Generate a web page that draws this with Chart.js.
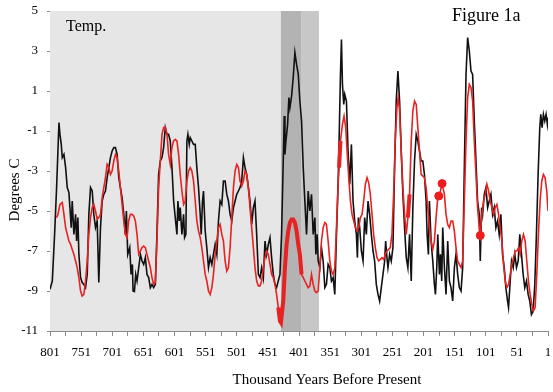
<!DOCTYPE html>
<html>
<head>
<meta charset="utf-8">
<script src="https://cdn.jsdelivr.net/npm/chart.js@4.4.1/dist/chart.umd.min.js"></script>
<style>
html,body{margin:0;padding:0;background:#fff;}
#wrap{width:553px;height:392px;position:relative;}
</style>
</head>
<body>
<div id="wrap"><canvas id="c" width="553" height="392"></canvas></div>
<script>
// ---- Data (thousand years before present, degrees C) ----
const blackAge = [801,797.3,793.6,790.4,786.6,785.0,782.9,781.3,778.6,775.9,773.3,770.6,769.0,766.9,765.3,762.6,759.9,758.3,756.2,754.6,751.9,749.3,746.6,743.9,741.2,738.6,735.9,733.2,730.6,727.9,725.2,722.6,719.9,717.2,714.6,711.9,709.2,706.5,703.9,701.2,698.5,695.9,693.2,690.5,687.9,685.2,682.5,679.9,678.3,676.1,672.9,670.8,668.6,667.6,665.4,663.3,661.2,658.5,655.8,653.2,650.5,647.8,645.2,642.5,639.8,637.2,634.5,631.8,629.2,626.5,623.8,621.1,618.5,615.8,613.1,610.5,607.8,605.1,602.4,599.8,597.1,595.5,593.4,591.8,589.1,586.4,584.8,582.7,581.1,579.5,577.3,575.7,573.1,570.4,567.7,565.1,562.4,559.7,558.1,556.0,554.4,551.7,549.1,546.4,543.7,541.0,538.4,535.7,533.0,530.4,527.7,525.0,522.4,519.7,517.0,514.4,511.7,509.0,506.3,503.7,501.0,498.3,495.7,493.0,490.3,487.7,485.0,482.3,479.7,477.0,474.3,471.7,469.0,466.3,463.6,461.0,458.3,455.6,453.0,450.3,447.6,445.0,442.3,439.6,437.0,434.3,431.6,429.0,426.3,424.7,423.6,422.0,419.3,417.2,415.6,412.9,410.3,407.6,404.9,402.2,399.6,396.9,394.2,391.6,388.9,386.2,383.6,380.9,378.2,375.5,373.9,371.8,370.2,367.5,364.9,362.2,359.5,356.9,354.2,351.5,348.9,346.2,343.5,340.8,338.2,336.6,334.4,332.8,331.2,329.1,327.5,324.8,322.2,319.5,316.8,314.2,311.5,308.8,307.2,305.6,303.5,300.8,298.1,295.5,292.8,290.1,287.5,284.8,282.1,279.5,276.8,274.1,271.5,268.8,266.1,263.4,261.8,259.7,258.1,255.4,252.8,250.1,247.4,244.8,242.1,239.4,236.8,234.1,231.4,228.7,226.1,223.4,220.7,218.1,215.4,212.7,210.1,207.4,204.8,202.1,199.5,196.8,195.2,193.1,191.5,188.8,186.1,183.5,181.8,179.7,178.1,175.4,173.8,171.7,170.1,167.4,164.8,162.1,159.4,156.8,154.1,151.4,148.8,146.1,143.4,140.7,138.1,135.4,132.7,130.1,127.4,124.7,122.1,119.4,116.7,114.1,111.4,109.8,107.6,106.0,103.4,100.7,98.0,95.4,92.7,90.0,87.4,84.7,82.0,79.4,76.7,74.0,71.3,68.7,66.0,64.4,61.7,59.6,56.9,54.3,51.6,48.9,46.3,43.6,40.9,38.3,35.6,32.9,30.3,27.6,24.9,22.2,19.6,16.9,14.2,12.6,10.5,8.4,6.2,4.1,2.0,1];
const blackTemp = [-8.92,-8.5,-6.17,-3.83,-0.58,-1.17,-1.67,-2.33,-2.17,-2.83,-3.83,-4.08,-4.83,-5.83,-4.5,-6.17,-5.17,-6.5,-5.33,-7.17,-8.33,-8.58,-8.67,-8.83,-8.17,-5.17,-3.83,-4.0,-5.17,-5.83,-5.5,-8.58,-5.83,-4.5,-4.17,-4.0,-3.33,-2.83,-2.33,-2.0,-1.83,-1.83,-2.17,-3.33,-3.83,-4.33,-5.17,-6.17,-5.0,-7.17,-6.83,-8.17,-7.67,-9.0,-9.03,-8.17,-8.5,-7.83,-7.17,-7.5,-7.67,-7.33,-8.17,-8.33,-8.83,-8.67,-8.83,-8.67,-6.17,-3.17,-2.5,-2.33,-1.83,-0.83,-1.17,-1.17,-1.5,-2.83,-4.5,-5.33,-6.17,-4.5,-5.5,-4.83,-6.17,-5.17,-6.33,-6.17,-1.5,-1.17,-1.67,-1.33,-1.5,-1.67,-1.67,-2.83,-3.83,-5.17,-6.17,-4.5,-4.0,-6.0,-6.83,-7.83,-7.33,-7.67,-7.17,-6.67,-7.17,-5.5,-4.5,-4.67,-3.5,-3.5,-4.17,-4.5,-5.17,-5.5,-4.83,-4.5,-4.17,-4.0,-3.83,-3.5,-2.33,-2.83,-3.17,-3.83,-4.5,-5.67,-4.83,-4.5,-6.17,-8.17,-8.33,-7.83,-8.33,-6.5,-7.17,-6.67,-6.33,-7.33,-8.17,-8.67,-8.83,-8.5,-8.17,-6.17,-2.5,-0.25,-2.17,-1.5,-0.67,0.67,0.17,0.75,1.67,2.92,2.33,1.83,0.5,-0.5,-2.83,-4.5,-6.17,-4.0,-5.0,-4.17,-6.17,-5.33,-7.17,-6.17,-7.5,-7.83,-6.83,-7.5,-8.83,-8.67,-7.67,-7.83,-8.5,-8.33,-9.17,-6.17,-3.67,-1.5,1.83,3.58,1.33,0.33,0.83,0.5,-2.0,-3.67,-1.67,-4.5,-5.5,-6.17,-7.33,-5.33,-5.83,-7.0,-7.5,-5.33,-6.17,-4.5,-5.17,-6.17,-7.0,-7.5,-8.67,-9.17,-9.5,-8.83,-8.17,-7.5,-6.5,-7.33,-7.83,-7.17,-7.5,-6.83,-2.83,0.5,2.0,0.5,-2.0,-4.17,-5.83,-7.33,-7.83,-6.17,-8.5,-4.83,-2.5,-1.17,-1.5,-2.0,-2.5,-2.5,-3.17,-4.5,-6.17,-7.17,-4.5,-6.5,-7.5,-8.67,-9.17,-7.83,-6.17,-8.17,-7.17,-8.5,-5.83,-7.83,-9.17,-6.5,-8.5,-8.83,-9.5,-7.83,-7.17,-8.17,-8.83,-9.0,-7.83,-2.83,1.83,3.67,3.0,2.0,1.83,-0.5,-2.5,-4.5,-5.17,-7.5,-4.83,-5.17,-4.17,-3.83,-4.83,-4.5,-4.17,-5.17,-4.83,-5.83,-5.5,-6.17,-5.17,-7.17,-7.83,-8.83,-9.5,-9.83,-8.5,-7.5,-7.83,-7.17,-7.83,-7.5,-6.17,-7.17,-8.17,-8.83,-8.5,-9.17,-9.5,-10.17,-10.0,-8.67,-6.17,-3.17,-0.83,-0.17,-0.83,-0.17,-0.5,-0.17,-0.67,-0.33];

const redAge = [790.4,788.2,785.0,781.3,778.6,775.9,773.3,770.6,767.9,765.3,762.6,759.9,757.3,754.6,751.9,749.3,746.6,743.9,741.2,738.6,735.9,733.2,730.6,727.9,725.2,722.6,719.9,717.2,714.6,711.9,709.2,706.5,703.9,701.2,698.5,695.9,693.2,690.5,687.9,685.2,682.5,679.9,677.2,674.6,671.9,669.2,666.5,663.9,661.2,658.5,655.8,653.2,650.5,647.8,645.2,642.5,639.8,637.2,634.5,631.8,629.2,626.5,623.8,621.1,618.5,615.8,613.1,610.5,607.8,605.1,602.5,599.8,597.1,594.4,591.8,589.1,586.4,583.8,581.1,578.4,575.7,573.1,570.4,567.7,565.1,562.4,559.7,557.1,554.4,551.7,549.1,546.4,543.7,541.0,538.4,535.7,533.0,530.4,527.7,525.0,522.4,519.7,517.0,514.4,511.7,509.0,506.3,503.7,501.0,498.3,495.7,493.0,490.3,487.7,485.0,482.3,479.7,477.0,474.3,471.7,469.0,466.3,463.6,461.0,458.3,455.6,453.0,450.3,447.6,445.0,442.3,439.6,437.0,434.3,431.6,430.0,426.3,423.6,420.9,418.3,415.6,412.9,410.3,407.6,404.9,402.2,399.6,396.9,394.2,391.6,388.9,386.2,383.6,380.9,378.2,375.5,372.9,370.2,367.5,364.9,362.2,359.5,356.9,354.2,351.5,348.9,346.2,343.5,340.8,338.2,336.6,334.4,331.2,328.6,325.9,323.8,321.1,318.4,315.8,313.1,310.4,307.8,305.1,302.4,299.7,297.1,294.4,291.7,289.1,286.4,283.7,281.1,278.4,275.7,273.0,270.4,267.7,265.0,262.4,259.7,257.0,254.4,251.7,249.0,246.4,243.7,241.6,239.4,236.8,234.1,231.4,228.7,226.1,223.4,220.7,218.1,215.4,212.7,210.1,207.4,204.8,199.5,196.8,194.1,191.5,188.8,186.1,183.5,180.8,178.1,176.5,173.8,171.2,167.4,164.8,162.1,159.4,156.8,154.1,151.4,148.8,146.1,143.4,140.7,138.1,135.4,132.7,130.1,127.4,124.7,122.1,119.4,116.7,114.1,111.4,109.8,107.1,104.5,101.8,99.1,96.4,93.8,91.1,88.4,85.8,83.1,80.4,77.8,75.1,72.4,69.7,67.1,64.4,61.7,59.1,56.4,53.7,51.1,48.4,45.7,43.1,40.4,37.7,35.1,32.4,29.7,27.0,24.4,21.7,19.0,16.4,13.7,11.0,8.4,5.7,3.0,1];
const redTemp = [-5.33,-5.17,-4.67,-4.58,-5.17,-5.83,-6.17,-6.5,-6.67,-6.92,-7.17,-7.5,-7.83,-8.33,-9.0,-9.25,-9.17,-8.5,-7.5,-6.17,-5.33,-4.83,-4.67,-5.0,-5.42,-5.33,-5.17,-4.33,-3.83,-3.33,-2.67,-2.83,-3.17,-3.0,-2.5,-2.17,-2.33,-3.0,-3.83,-4.67,-5.5,-6.17,-6.33,-5.5,-5.17,-5.17,-5.25,-5.5,-6.17,-7.17,-7.0,-6.83,-6.75,-6.83,-7.17,-7.5,-7.83,-8.33,-8.67,-8.58,-6.5,-3.83,-2.5,-1.17,-0.83,-0.8,-1.17,-2.17,-2.67,-1.83,-1.5,-1.42,-1.5,-2.17,-3.17,-4.0,-4.67,-4.5,-3.5,-3.0,-2.83,-3.0,-3.5,-4.5,-5.5,-6.0,-6.33,-6.83,-7.5,-8.17,-8.5,-9.0,-9.17,-8.83,-8.17,-7.17,-6.5,-5.83,-5.67,-6.17,-6.5,-7.5,-8.0,-7.83,-6.83,-5.33,-3.83,-3.0,-2.67,-2.83,-3.5,-3.75,-3.5,-3.0,-3.17,-3.83,-4.83,-5.83,-6.83,-7.83,-8.5,-8.75,-8.75,-8.5,-7.83,-7.33,-7.0,-7.17,-7.67,-8.17,-8.33,-8.67,-9.17,-9.83,-10.5,-10.58,-9.5,-7.83,-6.67,-6.0,-5.58,-5.42,-5.42,-5.58,-6.0,-6.67,-7.17,-8.17,-8.33,-8.5,-8.67,-8.83,-8.75,-8.17,-8.67,-9.0,-9.08,-9.0,-7.83,-6.5,-5.83,-5.58,-5.67,-6.5,-7.5,-8.0,-8.17,-7.83,-5.83,-3.67,-2.83,-1.5,-0.67,-0.25,-0.83,-2.0,-3.33,-4.5,-5.17,-5.5,-5.83,-6.0,-5.83,-5.33,-5.17,-4.5,-3.67,-3.33,-3.58,-4.17,-5.17,-6.17,-6.83,-7.33,-7.5,-7.42,-7.33,-7.42,-7.17,-7.0,-6.92,-6.83,-6.17,-4.17,-1.5,0.17,0.67,0.0,-2.0,-3.83,-5.17,-6.17,-5.33,-4.17,-1.5,0.0,0.5,0.33,-0.83,-2.0,-3.17,-3.33,-3.83,-4.83,-5.83,-6.5,-6.92,-6.5,-5.33,-4.33,-4.25,-4.0,-3.63,-4.17,-5.17,-5.67,-5.83,-5.5,-5.5,-6.0,-6.83,-7.5,-7.67,-7.83,-7.5,-4.5,-1.5,0.67,1.33,1.17,0.5,-1.5,-3.17,-4.83,-5.83,-6.22,-5.17,-4.5,-4.17,-3.67,-4.0,-4.5,-4.83,-5.17,-4.83,-4.67,-5.17,-5.83,-6.5,-7.67,-8.5,-8.83,-8.67,-8.17,-7.67,-7.33,-7.0,-7.0,-6.83,-7.17,-6.5,-6.17,-6.5,-7.5,-8.5,-9.17,-9.67,-10.0,-9.83,-8.17,-6.17,-4.5,-3.5,-3.17,-3.33,-4.0,-5.0];

// highlighted (thick) stretches of the red series, as [older, younger] ages
const thickFrom = [435, 336.6, 226.1];
const thickTo   = [396.9, 334.4, 223.4];

// single marked red points
const dotAge  = [176.5, 171.2, 109.8];
const dotTemp = [-4.25, -3.63, -6.22];

// shaded intervals [older, younger]
const bandFrom = [801, 430, 397];
const bandTo   = [369, 397, 369];
const bandColor = ['#e6e6e6', '#b3b3b3', '#c7c7c7'];

// axis ticks
const xTickValues = [];
for (let v = 801; v >= 1; v -= 25) xTickValues.push(v);
const xLabelStep = 50;
const yMin = -11, yMax = 5, yStep = 2;

// ---- build datasets ----
const toXY = (a, t) => a.map((x, i) => ({x: x, y: t[i]}));
const inThick = (age) => thickFrom.some((f, i) => age <= f && age >= thickTo[i]);
const thickData = redAge.map((x, i) => ({x: x, y: inThick(x) ? redTemp[i] : null}));

const FONT = 'Liberation Serif';
Chart.defaults.font.family = FONT;
Chart.defaults.color = '#000';

const bandPlugin = {
  id: 'bands',
  beforeDatasetsDraw(chart) {
    const {ctx, chartArea: ca, scales: {x}} = chart;
    ctx.save();
    for (let i = 0; i < bandFrom.length; i++) {
      const x1 = x.getPixelForValue(bandFrom[i]);
      const x2 = x.getPixelForValue(bandTo[i]);
      ctx.fillStyle = bandColor[i];
      ctx.fillRect(Math.min(x1, x2), ca.top, Math.abs(x2 - x1), ca.bottom - ca.top);
    }
    ctx.restore();
  }
};

const textPlugin = {
  id: 'texts',
  afterDraw(chart) {
    const {ctx} = chart;
    ctx.save();
    ctx.fillStyle = '#000';
    ctx.textBaseline = 'alphabetic';
    ctx.textAlign = 'left';
    ctx.font = '16px "' + FONT + '"';
    ctx.fillText('Temp.', 66, 31);
    ctx.font = '18px "' + FONT + '"';
    ctx.fillText('Figure 1a', 452, 21);
    ctx.font = '15px "' + FONT + '"';
    ctx.textAlign = 'center';
    ctx.textBaseline = 'middle';
    ctx.fillText('Thousand Years Before Present', 327, 380);
    ctx.translate(15, 190);
    ctx.rotate(-Math.PI / 2);
    ctx.fillText('Degrees C', 0, 0);
    ctx.restore();
  }
};

new Chart(document.getElementById('c'), {
  type: 'line',
  data: {
    datasets: [
      {label: 'dots', type: 'scatter', data: toXY(dotAge, dotTemp), pointRadius: 4, pointBackgroundColor: '#ee1c1c', pointBorderColor: '#ee1c1c', showLine: false, order: 0},
      {label: 'red thick', data: thickData, borderColor: '#e62222', borderWidth: 4, pointRadius: 0, tension: 0, spanGaps: false, order: 1},
      {label: 'red', data: toXY(redAge, redTemp), borderColor: '#e62222', borderWidth: 1.6, pointRadius: 0, tension: 0, order: 2},
      {label: 'black', data: toXY(blackAge, blackTemp), borderColor: '#111111', borderWidth: 1.6, pointRadius: 0, tension: 0, order: 3}
    ]
  },
  options: {
    responsive: false,
    animation: false,
    devicePixelRatio: 1,
    layout: {padding: {top: 11, right: 3, left: 0, bottom: 0}},
    plugins: {legend: {display: false}, tooltip: {enabled: false}},
    scales: {
      x: {
        type: 'linear',
        reverse: true,
        min: 1, max: 801,
        afterBuildTicks(scale) { scale.ticks = xTickValues.map(v => ({value: v})); },
        afterFit(scale) { scale.height = 61; scale.paddingLeft = 0; scale.paddingRight = 0; },
        ticks: {
          autoSkip: false, maxRotation: 0, minRotation: 0,
          font: {size: 13, family: FONT}, color: '#000', padding: 9,
          callback: (v) => ((801 - v) % xLabelStep === 0 ? String(v) : '')
        },
        grid: {drawOnChartArea: false, drawTicks: true, tickLength: 5, color: '#8a8a8a'},
        border: {display: true, color: '#8a8a8a', width: 1}
      },
      y: {
        min: yMin, max: yMax,
        afterFit(scale) { scale.width = 50; scale.paddingTop = 0; scale.paddingBottom = 0; },
        ticks: {stepSize: yStep, font: {size: 13, family: FONT}, color: '#000', padding: 9},
        grid: {drawOnChartArea: false, drawTicks: true, tickLength: 3, color: '#8a8a8a'},
        border: {display: true, color: '#8a8a8a', width: 1}
      }
    }
  },
  plugins: [bandPlugin, textPlugin]
});
</script>
</body>
</html>
